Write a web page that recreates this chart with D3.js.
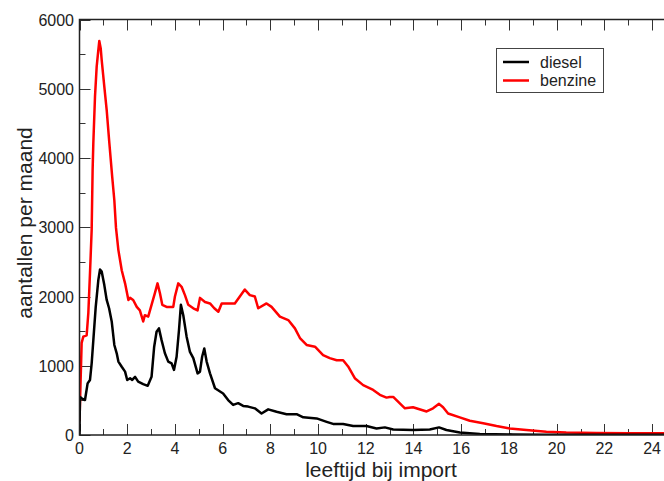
<!DOCTYPE html>
<html>
<head>
<meta charset="utf-8">
<script src="https://cdn.jsdelivr.net/npm/d3@7"></script>
<style>
  body { margin: 0; background: #fff; }
  svg { display: block; font-family: "Liberation Sans", Arial, sans-serif; }
</style>
</head>
<body>
<svg width="664" height="481"></svg>
<script>
// leeftijd (jaren) en aantallen
var benzineAge = [0, 0.09, 0.16, 0.3, 0.37, 0.44, 0.51, 0.55, 0.58, 0.65, 0.72, 0.79, 0.83, 0.89, 0.93, 1.04, 1.14, 1.25, 1.37, 1.46, 1.53, 1.63, 1.77, 1.91, 2.05, 2.12, 2.25, 2.4, 2.53, 2.67, 2.74, 2.88, 3.02, 3.16, 3.27, 3.37, 3.47, 3.65, 3.93, 4.0, 4.14, 4.28, 4.42, 4.56, 4.77, 4.95, 5.05, 5.26, 5.47, 5.65, 5.82, 5.96, 6.3, 6.51, 6.72, 6.93, 7.14, 7.35, 7.49, 7.84, 8.05, 8.4, 8.75, 9.03, 9.24, 9.52, 9.87, 10.21, 10.49, 10.78, 11.05, 11.26, 11.54, 11.89, 12.31, 12.59, 12.87, 13.0, 13.15, 13.64, 13.98, 14.55, 14.82, 15.07, 15.24, 15.45, 15.94, 16.36, 16.92, 17.48, 18.04, 18.73, 19.57, 20.4, 21.67, 23.06, 24.5];
var benzineCount = [200, 1330, 1420, 1440, 1760, 2340, 2960, 3830, 4220, 4890, 5320, 5560, 5690, 5580, 5415, 5030, 4690, 4220, 3730, 3390, 2990, 2670, 2380, 2190, 1950, 1980, 1950, 1850, 1800, 1640, 1730, 1710, 1880, 2050, 2190, 2050, 1880, 1850, 1850, 2000, 2190, 2140, 2020, 1880, 1830, 1800, 1980, 1920, 1900, 1830, 1780, 1900, 1900, 1900, 2000, 2100, 2020, 2000, 1830, 1900, 1850, 1710, 1660, 1540, 1400, 1300, 1275, 1155, 1110, 1080, 1080, 990, 820, 720, 650, 580, 540, 550, 550, 385, 400, 340, 385, 450, 400, 310, 255, 205, 170, 130, 95, 72, 48, 35, 30, 25, 25];

var dieselAge = [0, 0.02, 0.09, 0.23, 0.34, 0.44, 0.51, 0.58, 0.68, 0.79, 0.86, 0.93, 1.04, 1.14, 1.24, 1.35, 1.46, 1.56, 1.63, 1.77, 1.91, 2.0, 2.12, 2.21, 2.33, 2.46, 2.67, 2.86, 3.02, 3.13, 3.23, 3.33, 3.44, 3.58, 3.72, 3.86, 3.96, 4.07, 4.17, 4.25, 4.35, 4.49, 4.63, 4.77, 4.95, 5.05, 5.14, 5.23, 5.33, 5.47, 5.68, 6.02, 6.23, 6.44, 6.65, 6.86, 7.07, 7.35, 7.63, 7.91, 8.26, 8.68, 9.1, 9.38, 9.94, 10.36, 10.63, 11.05, 11.47, 12.03, 12.45, 12.8, 13.15, 13.98, 14.68, 15.07, 15.38, 15.94, 16.78, 18.17, 19.5, 21, 24.5];
var dieselCount = [50, 550, 530, 505, 745, 795, 1035, 1370, 1850, 2240, 2390, 2360, 2165, 1950, 1830, 1640, 1300, 1180, 1060, 985, 915, 795, 820, 795, 840, 770, 735, 710, 840, 1275, 1490, 1540, 1370, 1180, 1060, 1035, 940, 1130, 1515, 1880, 1730, 1420, 1200, 1110, 890, 915, 1130, 1250, 1060, 890, 675, 600, 505, 435, 460, 420, 410, 385, 310, 370, 335, 300, 300, 255, 240, 190, 160, 160, 130, 130, 95, 110, 80, 72, 80, 110, 72, 35, 15, 8, 5, 3, 2];

var seriesNames = ["diesel", "benzine"];
var seriesColors = ["#000000", "#ff0000"];
var xTicks = d3.range(0, 25, 2);
var yTicks = d3.range(0, 6001, 1000);

var svg = d3.select("svg");
var pLeft = 79.5, pRight = 664, pTop = 19.5, pBottom = 435;

var x = d3.scaleLinear().domain([0, 24.5]).range([pLeft, pRight]);
var y = d3.scaleLinear().domain([0, 6000]).range([pBottom, pTop]);

// ticks (inward), major and minor, on bottom, top and left
var g = svg.append("g").attr("stroke", "#333").attr("stroke-width", 1);
d3.range(0, 25, 1).forEach(function (v) {
	var len = v % 2 === 0 ? 11 : 6;
	var px = Math.round(x(v)) + 0.5;
	g.append("line").attr("x1", px).attr("x2", px).attr("y1", pBottom).attr("y2", pBottom - len);
	g.append("line").attr("x1", px).attr("x2", px).attr("y1", pTop).attr("y2", pTop + len);
});
d3.range(0, 6001, 500).forEach(function (v) {
	var len = v % 1000 === 0 ? 11 : 6;
	var py = Math.round(y(v)) + 0.5;
	g.append("line").attr("x1", pLeft).attr("x2", pLeft + len).attr("y1", py).attr("y2", py);
});

// lines
var line = d3.line()
	.x(function (d) { return x(d[0]); })
	.y(function (d) { return y(d[1]); });

svg.append("clipPath").attr("id", "clip")
	.append("rect").attr("x", pLeft).attr("y", pTop).attr("width", pRight - pLeft).attr("height", pBottom - pTop);

var benzine = benzineAge.map(function (a, i) { return [a, benzineCount[i]]; });
var diesel = dieselAge.map(function (a, i) { return [a, dieselCount[i]]; });

svg.append("path").datum(benzine)
	.attr("clip-path", "url(#clip)")
	.attr("d", line).attr("fill", "none")
	.attr("stroke", seriesColors[1]).attr("stroke-width", 2.5).attr("stroke-linejoin", "round");
svg.append("path").datum(diesel)
	.attr("clip-path", "url(#clip)")
	.attr("d", line).attr("fill", "none")
	.attr("stroke", seriesColors[0]).attr("stroke-width", 2.5).attr("stroke-linejoin", "round");

// frame
svg.append("rect").attr("x", pLeft).attr("y", pTop).attr("width", pRight + 2 - pLeft).attr("height", pBottom - pTop)
	.attr("fill", "none").attr("stroke", "#222").attr("stroke-width", 1.5);

// tick labels
svg.selectAll("text.xt").data(xTicks).enter().append("text")
	.attr("class", "xt")
	.attr("x", function (d) { return x(d); })
	.attr("y", 454)
	.attr("text-anchor", "middle")
	.attr("font-size", 16).attr("fill", "#222")
	.text(function (d) { return d; });

svg.selectAll("text.yt").data(yTicks).enter().append("text")
	.attr("class", "yt")
	.attr("x", 74)
	.attr("y", function (d) { return y(d) + 6; })
	.attr("text-anchor", "end")
	.attr("font-size", 16).attr("fill", "#222")
	.text(function (d) { return d; });

// axis titles
svg.append("text").attr("x", 381).attr("y", 477)
	.attr("text-anchor", "middle").attr("font-size", 21).attr("fill", "#222")
	.text("leeftijd bij import");
svg.append("text").attr("transform", "translate(32,223) rotate(-90)")
	.attr("text-anchor", "middle").attr("font-size", 21).attr("fill", "#222")
	.text("aantallen per maand");

// legend
var lg = svg.append("g");
lg.append("rect").attr("x", 496.5).attr("y", 48.5).attr("width", 107).attr("height", 44)
	.attr("fill", "#fff").attr("stroke", "#444").attr("stroke-width", 1);
seriesNames.forEach(function (name, i) {
	var ly = 62 + i * 18.5;
	lg.append("line").attr("x1", 503).attr("x2", 529).attr("y1", ly).attr("y2", ly)
		.attr("stroke", seriesColors[i]).attr("stroke-width", 2.5);
	lg.append("text").attr("x", 540).attr("y", ly + 5.5)
		.attr("font-size", 16).attr("fill", "#222").text(name);
});
</script>
</body>
</html>
